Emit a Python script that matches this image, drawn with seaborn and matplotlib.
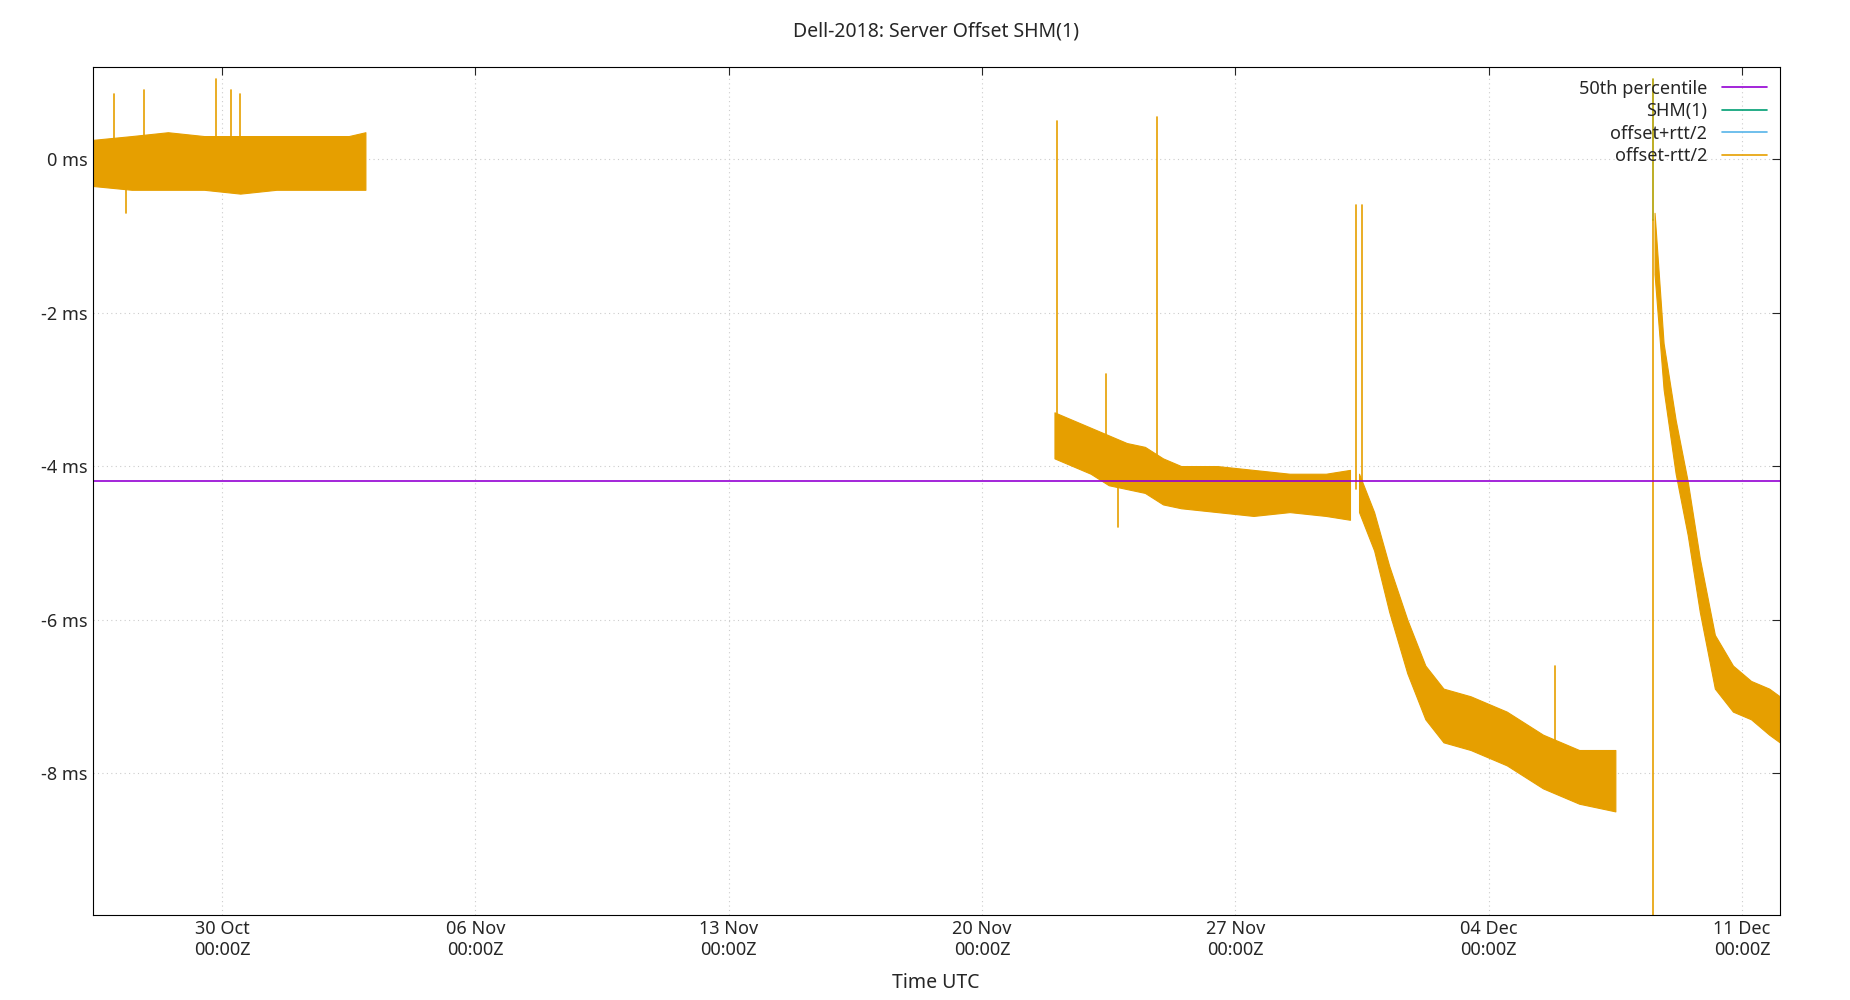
import pandas as pd
import matplotlib.pyplot as plt
import matplotlib.dates as mdates
import seaborn as sns

sns.set_style("white")
plt.rcParams['font.family'] = ['Noto Sans', 'DejaVu Sans']

# band envelopes (ms)
seg1_time = ["2018-10-26 10:00", "2018-10-27 12:00", "2018-10-28 12:00", "2018-10-29 12:00",
             "2018-10-30 12:00", "2018-10-31 12:00", "2018-11-01 12:00", "2018-11-02 12:00",
             "2018-11-02 23:00"]
seg1_hi = [0.25, 0.3, 0.35, 0.3, 0.3, 0.3, 0.3, 0.3, 0.35]
seg1_lo = [-0.35, -0.4, -0.4, -0.4, -0.45, -0.4, -0.4, -0.4, -0.4]

seg2_time = ["2018-11-22 00:00", "2018-11-22 12:00", "2018-11-23 00:00", "2018-11-23 12:00",
             "2018-11-24 00:00", "2018-11-24 12:00", "2018-11-25 00:00", "2018-11-25 12:00",
             "2018-11-26 12:00", "2018-11-27 12:00", "2018-11-28 12:00", "2018-11-29 12:00",
             "2018-11-30 04:00"]
seg2_hi = [-3.3, -3.4, -3.5, -3.6, -3.7, -3.75, -3.9, -4.0, -4.0, -4.05, -4.1, -4.1, -4.05]
seg2_lo = [-3.9, -4.0, -4.1, -4.25, -4.3, -4.35, -4.5, -4.55, -4.6, -4.65, -4.6, -4.65, -4.7]

seg3_time = ["2018-11-30 10:00", "2018-11-30 20:00", "2018-12-01 06:00", "2018-12-01 18:00",
             "2018-12-02 06:00", "2018-12-02 18:00", "2018-12-03 12:00", "2018-12-04 12:00",
             "2018-12-05 12:00", "2018-12-06 12:00", "2018-12-07 12:00"]
seg3_hi = [-4.1, -4.6, -5.3, -6.0, -6.6, -6.9, -7.0, -7.2, -7.5, -7.7, -7.7]
seg3_lo = [-4.6, -5.1, -5.9, -6.7, -7.3, -7.6, -7.7, -7.9, -8.2, -8.4, -8.5]

seg4_time = ["2018-12-08 14:00", "2018-12-08 20:00", "2018-12-09 04:00", "2018-12-09 12:00",
             "2018-12-09 20:00", "2018-12-10 06:00", "2018-12-10 18:00", "2018-12-11 06:00",
             "2018-12-11 18:00", "2018-12-12 01:00"]
seg4_hi = [-0.7, -2.4, -3.4, -4.2, -5.2, -6.2, -6.6, -6.8, -6.9, -7.0]
seg4_lo = [-1.5, -3.0, -4.1, -4.9, -5.9, -6.9, -7.2, -7.3, -7.5, -7.6]

# single-sample spikes: (time, peak value)
spike_time = ["2018-10-27 00:00", "2018-10-27 20:00", "2018-10-29 20:00", "2018-10-30 06:00",
              "2018-10-30 12:00", "2018-10-27 08:00", "2018-11-22 02:00", "2018-11-24 20:00",
              "2018-11-23 10:00", "2018-11-30 08:00", "2018-11-30 12:00", "2018-12-05 20:00",
              "2018-12-08 13:00", "2018-11-23 18:00"]
spike_base = [0.0, 0.0, 0.0, 0.0, 0.0, 0.0, -3.6, -4.1, -3.8, -4.3, -4.4, -7.8, -0.8, -4.1]
spike_peak = [0.85, 0.9, 1.05, 0.9, 0.85, -0.7, 0.5, 0.55, -2.8, -0.6, -0.6, -6.6, -9.9, -4.8]
spike_top = ["2018-12-08 13:00"]
spike_top_val = [1.05]

median_ms = -4.2

fig = plt.figure(figsize=(18.5, 10), dpi=100)
ax = fig.add_axes([0.05, 0.085, 0.912, 0.848])

orange = "#e69f00"
for t, hi, lo in [(seg1_time, seg1_hi, seg1_lo), (seg2_time, seg2_hi, seg2_lo),
                  (seg3_time, seg3_hi, seg3_lo), (seg4_time, seg4_hi, seg4_lo)]:
    ax.fill_between(pd.to_datetime(t), lo, hi, color=orange, lw=0.8, edgecolor=orange)

for t, b, p in zip(pd.to_datetime(spike_time), spike_base, spike_peak):
    ax.plot([t, t], [b, p], color=orange, lw=1.2)
for t, p in zip(pd.to_datetime(spike_top), spike_top_val):
    ax.plot([t, t], [-0.8, p], color="#b2a000", lw=1.2)

ax.axhline(median_ms, color="#9400d3", lw=1.2)

# legend entries
for lab, c in [("50th percentile", "#9400d3"), ("SHM(1)", "#009e73"),
               ("offset+rtt/2", "#56b4e9"), ("offset-rtt/2", orange)]:
    ax.plot([], [], color=c, lw=1.2, label=lab)
leg = ax.legend(loc="upper right", frameon=False, markerfirst=False, fontsize=13,
                handlelength=2.5, borderaxespad=0.3, labelspacing=0.25)

ax.set_xlim(pd.Timestamp("2018-10-26 10:00"), pd.Timestamp("2018-12-12 01:00"))
ax.set_ylim(-9.85, 1.2)
ticks = pd.to_datetime(["2018-10-30", "2018-11-06", "2018-11-13", "2018-11-20",
                        "2018-11-27", "2018-12-04", "2018-12-11"])
ax.set_xticks(ticks)
ax.xaxis.set_major_formatter(mdates.DateFormatter("%d %b\n%H:%MZ"))
ax.set_yticks([0, -2, -4, -6, -8])
ax.set_yticklabels(["0 ms", "-2 ms", "-4 ms", "-6 ms", "-8 ms"])
ax.grid(True, color="#cccccc", linestyle=(0, (1, 3)), lw=0.8)
ax.tick_params(axis="both", labelsize=13, direction="in", length=6, top=True, right=True)
for s in ax.spines.values():
    s.set_color("black")
ax.set_xlabel("Time UTC", fontsize=14, labelpad=10)
ax.set_title("Dell-2018: Server Offset SHM(1)", fontsize=14, pad=22)

fig.savefig("out.png", dpi=100)
